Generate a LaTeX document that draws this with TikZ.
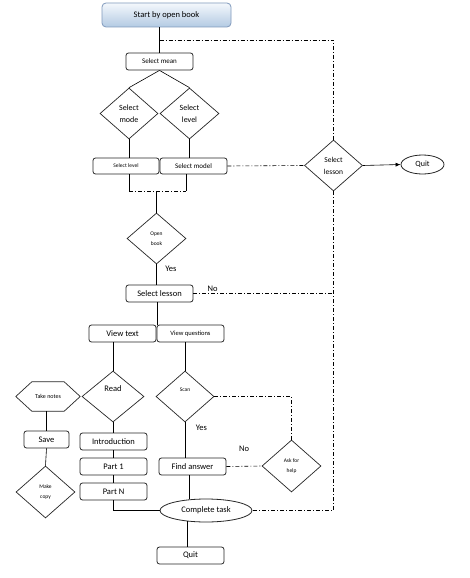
\documentclass[tikz,border=0pt]{standalone}
\usepackage{fontspec}
\setmainfont{Carlito}
\usetikzlibrary{shapes.geometric,arrows.meta}
\newcommand\myfs[2]{\fontsize{#1}{#2}\selectfont}
\definecolor{startborder}{HTML}{8099BC}
\definecolor{starttop}{HTML}{F4F8FC}
\definecolor{startbot}{HTML}{B3CAE3}
\begin{document}
\begin{tikzpicture}[x=1pt,y=-1pt,
  box/.style={draw=black!85, line width=0.8pt, rounded corners=2.5pt, inner sep=0pt,
              minimum width=67pt, minimum height=17pt, font=\myfs{8.5}{10}},
  dia/.style={draw=black!85, line width=0.7pt, diamond, inner sep=0pt, align=center,
              minimum width=58pt, minimum height=51pt},
  ell/.style={draw=black!85, line width=0.8pt, ellipse, inner sep=0pt},
  conn/.style={line width=0.6pt},
  dd/.style={line width=0.6pt, dash pattern=on 4pt off 2pt on 1pt off 2pt},
  lbl/.style={font=\myfs{8.5}{10}, inner sep=0pt}]
\fill[white] (0,0) rectangle (469,578);
\useasboundingbox (0,0) rectangle (469,578);

% nodes
\node[draw=startborder, line width=0.8pt, rounded corners=4pt, top color=starttop, bottom color=startbot,
      minimum width=129pt, minimum height=24pt, inner sep=0pt, font=\myfs{8.5}{10}] (start) at (166.5,15) {Start by open book};
\node[box, font=\myfs{7}{8}] (mean) at (159.5,61.5) {Select mean};
\node[dia, font=\myfs{8}{12}] (dmode) at (129,113.5) {Select\\mode};
\node[dia, font=\myfs{8}{12}, minimum width=59pt] (dlevel) at (189.5,113.5) {Select\\level};
\node[box, minimum width=66pt, minimum height=16pt, font=\myfs{5.5}{7}] (slevel) at (126,166) {Select level};
\node[box, minimum height=16pt, font=\myfs{7}{8}] (smodel) at (193.5,166) {Select model};
\node[dia, font=\myfs{7.5}{12}] (dlesson) at (333.5,165.5) {Select\\lesson};
\node[ell, minimum width=43pt, minimum height=19pt, font=\myfs{8}{10}] (quitA) at (422.5,164.5) {Quit};
\node[dia, minimum width=59pt, font=\myfs{5.5}{10}] (obook) at (156.5,238.5) {Open\\book};
\node[box] (slesson) at (159.5,293.5) {Select lesson};
\node[box] (vtext) at (122.5,333.5) {View text};
\node[box, font=\myfs{6.5}{8}] (vq) at (190.5,333.5) {View questions};
\node[dia, minimum width=62pt, font=\myfs{8.5}{10}] (read) at (113,396.5) {Read\\[6pt]\mbox{}};
\node[dia, font=\myfs{5.5}{10}] (scan) at (185,396.5) {Scan\\[4pt]\mbox{}};
\node[minimum width=64pt, minimum height=29pt, inner sep=0pt, font=\myfs{6}{8}] (hex) at (48,396.5) {Take notes};
\draw[line width=0.7pt, draw=black!85] (hex.west) -- ([xshift=16pt]hex.north west) -- ([xshift=-16pt]hex.north east)
   -- (hex.east) -- ([xshift=-16pt]hex.south east) -- ([xshift=16pt]hex.south west) -- cycle;
\node[box, minimum width=45pt] (save) at (46.5,439.5) {Save};
\node[dia, minimum width=59pt, minimum height=52pt, font=\myfs{5.5}{10}] (copy) at (45.5,492) {Make\\copy};
\node[box] (intro) at (113.5,441.5) {Introduction};
\node[box] (part1) at (113.5,466.5) {Part 1};
\node[box] (partN) at (113.5,491.5) {Part N};
\node[box] (find) at (192.5,466.5) {Find answer};
\node[dia, minimum width=59pt, minimum height=52pt, font=\myfs{5.5}{10}] (ask) at (291.5,466) {Ask for\\help};
\node[ell, minimum width=92pt, minimum height=23pt, font=\myfs{8.5}{10}] (complete) at (206,510.5) {Complete task};
\node[box] (quitB) at (190.5,555.5) {Quit};

% labels
\node[lbl] (yes1) at (171,268.5) {Yes};
\node[lbl] (no1) at (212.5,289) {No};
\node[lbl] (yes2) at (201.5,428) {Yes};
\node[lbl] (no2) at (244,449) {No};

% coordinates
\coordinate (j1) at (159.5,40);
\coordinate (j2) at (129,191);
\coordinate (j3) at (186,191);
\coordinate (j4) at (156.5,191);
\coordinate (j5) at (157,302);

% solid connectors
\draw[conn] (mean.north |- start.south) -- (mean.north);
\draw[conn] (mean.south) -- (dmode.north);
\draw[conn] (mean.south) -- (dlevel.north);
\draw[conn] (dmode.south) -- (slevel.north -| dmode.south);
\draw[conn] (dlevel.south) -- (smodel.north -| dlevel.south);
\draw[conn] (j2 |- slevel.south) -- (j2);
\draw[conn] (j3 |- smodel.south) -- (j3);
\draw[conn] (j4) -- (obook.north);
\draw[conn, -{Latex[length=5pt,width=4pt]}] (dlesson.east) -- (quitA.west);
\draw[conn] (obook.south) -- (slesson.north -| obook.south);
\draw[conn] (j5) -- (vtext.north -| j5);
\draw[conn] (read.north |- vtext.south) -- (read.north);
\draw[conn] (scan.north |- vq.south) -- (scan.north);
\draw[conn] (save.north |- hex.south) -- (save.north);
\draw[conn] (save.south) -- (copy.north);
\draw[conn] (read.south) -- (intro.north -| read.south);
\draw[conn] (intro.south) -- (part1.north);
\draw[conn] (part1.south) -- (partN.north);
\draw[conn] (partN.south) -- (partN.south |- complete.west) -- (complete.west);
\draw[conn] (scan.south) -- (find.north -| scan.south);
\draw[conn] ([xshift=-3.5pt]find.south) -- ([xshift=-3.5pt,yshift=-0.5pt]find.south |- complete.north);
\draw[conn] ([xshift=-3pt]quitB.north) -- ([xshift=-3pt,yshift=1pt]quitB.north |- complete.south);

% dash-dot connectors
\draw[dd] (j1) -- (dlesson.north |- j1) -- (dlesson.north);
\draw[dd] (smodel.east) -- (dlesson.west);
\draw[dd] (j2) -- (j3);
\draw[dd] (slesson.east) -- (dlesson.south |- slesson.east);
\draw[dd] (dlesson.south) -- (dlesson.south |- complete.east) -- (complete.east);
\draw[dd] (scan.east) -- (ask.north |- scan.east) -- (ask.north);
\draw[dd] (find.east) -- (ask.west);
\end{tikzpicture}
\end{document}
